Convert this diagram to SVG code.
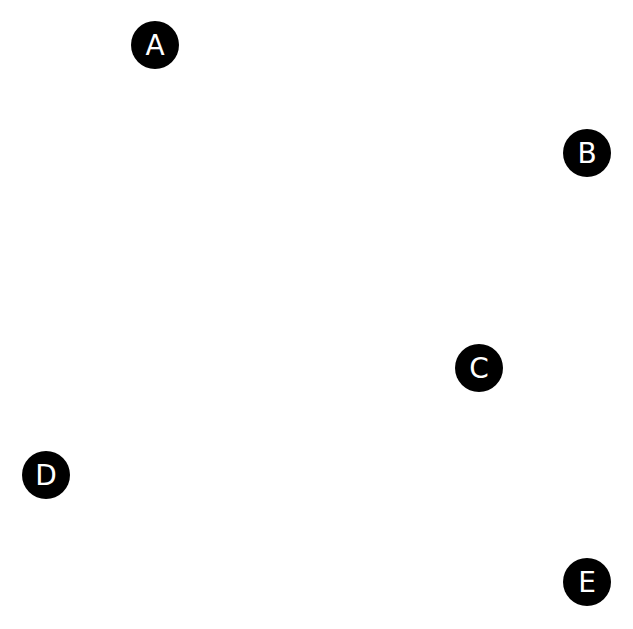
<svg xmlns="http://www.w3.org/2000/svg" width="633" height="629" viewBox="0 0 633 629">
<style>
.node circle{fill:#000}
.node text{fill:#fff;font-family:"DejaVu Sans",sans-serif;font-size:28px;text-anchor:middle}
</style>
<rect width="633" height="629" fill="#fff"/>
<g id="connectors"></g>
<g id="A" class="node"><circle cx="155" cy="45" r="24"/><text x="155" y="55">A</text></g>
<g id="B" class="node"><circle cx="587" cy="153" r="24"/><text x="587" y="163">B</text></g>
<g id="C" class="node"><circle cx="479" cy="368" r="24"/><text x="479" y="378">C</text></g>
<g id="D" class="node"><circle cx="46" cy="475" r="24"/><text x="46" y="485">D</text></g>
<g id="E" class="node"><circle cx="587" cy="582" r="24"/><text x="587" y="592">E</text></g>
</svg>
